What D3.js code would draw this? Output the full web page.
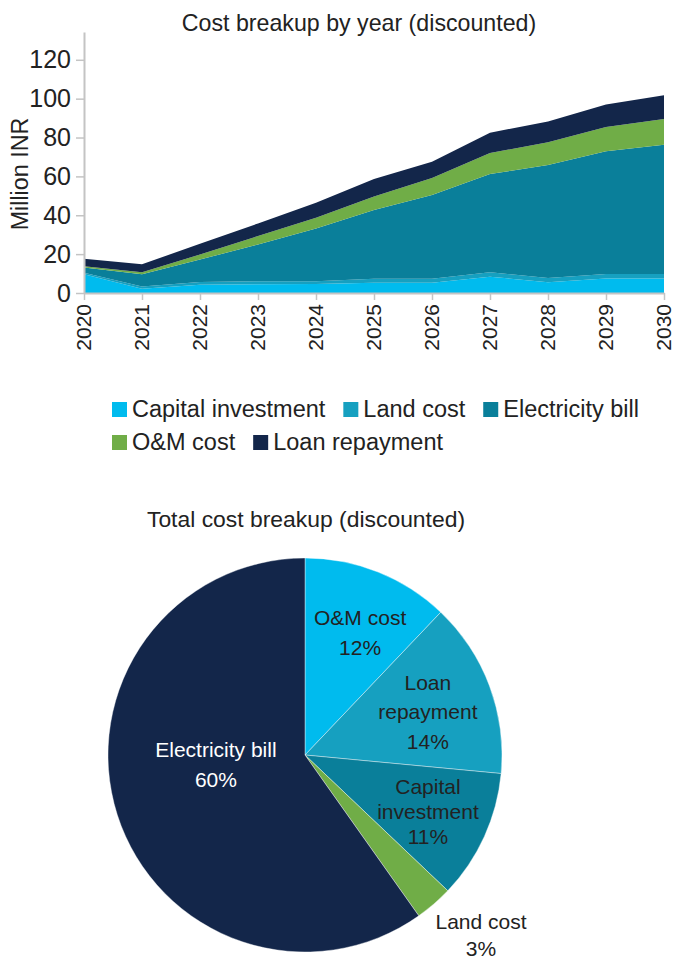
<!DOCTYPE html>
<html>
<head>
<meta charset="utf-8">
<script src="https://cdn.jsdelivr.net/npm/d3@7"></script>
<style>
  html, body { margin: 0; padding: 0; background: #fff; }
  svg { display: block; font-family: "Liberation Sans", Arial, sans-serif; }
</style>
</head>
<body>
<svg id="chart" width="674" height="962"></svg>
<script>
// ---------- DATA ----------
const years = [2020, 2021, 2022, 2023, 2024, 2025, 2026, 2027, 2028, 2029, 2030];
const seriesNames = ["Capital investment", "Land cost", "Electricity bill", "O&M cost", "Loan repayment"];
const capitalInvestment = [9.6, 2.2, 4.2, 4.5, 4.6, 5.3, 5.3, 8.4, 5.5, 7.5, 7.5];
const landCost          = [0.8, 1.1, 1.4, 1.6, 1.5, 2.0, 2.0, 2.3, 2.2, 2.3, 2.3];
const electricityBill   = [2.7, 6.3, 11.6, 18.9, 27.1, 35.4, 43.1, 50.5, 58.1, 63.2, 66.5];
const omCost            = [0.7, 1.1, 2.6, 4.3, 5.5, 6.9, 8.8, 10.8, 11.8, 12.4, 13.2];
const loanRepayment     = [3.8, 4.1, 5.5, 6.5, 7.8, 9.1, 8.4, 10.5, 10.6, 11.6, 12.3];
const yTicks = [0, 20, 40, 60, 80, 100, 120];

const pieLabels = ["O&M cost", "Loan repayment", "Capital investment", "Land cost", "Electricity bill"];
const pieValues = [12.1, 14.4, 10.6, 3.1, 59.8];

const colors = ["#00BBEE", "#16A0C0", "#0A7F9A", "#70AD47", "#13264A"];

// ---------- STACKED AREA ----------
const svg = d3.select("#chart");
const textColor = "#222";
const axisColor = "#c4c4c4";

const rows = years.map((y, i) => ({
  year: y,
  "Capital investment": capitalInvestment[i],
  "Land cost": landCost[i],
  "Electricity bill": electricityBill[i],
  "O&M cost": omCost[i],
  "Loan repayment": loanRepayment[i]
}));

const x = d3.scaleLinear().domain([2020, 2030]).range([84, 664]);
const y = d3.scaleLinear().domain([0, 134.3]).range([293, 32]);

const stack = d3.stack().keys(seriesNames);
const layers = stack(rows);
const area = d3.area()
  .x(d => x(d.data.year))
  .y0(d => y(d[0]))
  .y1(d => y(d[1]));

svg.append("g").selectAll("path")
  .data(layers)
  .join("path")
  .attr("d", area)
  .attr("fill", (d, i) => colors[i]);

// title
svg.append("text")
  .attr("x", 359).attr("y", 31)
  .attr("text-anchor", "middle")
  .attr("font-size", 23.2)
  .attr("fill", textColor)
  .text("Cost breakup by year (discounted)");

// y axis
const yAxis = svg.append("g")
  .attr("transform", "translate(84,0)")
  .call(d3.axisLeft(y).tickValues(yTicks).tickSize(8).tickPadding(5).tickSizeOuter(0));
yAxis.select(".domain").attr("stroke", axisColor).attr("stroke-width", 2);
yAxis.selectAll(".tick line").attr("stroke", axisColor).attr("stroke-width", 1.5);
yAxis.selectAll(".tick text").attr("font-size", 25).attr("fill", textColor)
  .attr("font-family", "Liberation Sans, Arial, sans-serif");

// x axis
const xAxis = svg.append("g")
  .attr("transform", "translate(0,293)")
  .call(d3.axisBottom(x).tickValues(years).tickFormat(d3.format("d")).tickSize(7).tickSizeOuter(0));
xAxis.select(".domain").attr("stroke", axisColor).attr("stroke-width", 2);
xAxis.selectAll(".tick line").attr("stroke", axisColor).attr("stroke-width", 1.5);
xAxis.selectAll(".tick text")
  .attr("font-size", 21).attr("fill", textColor)
  .attr("font-family", "Liberation Sans, Arial, sans-serif")
  .attr("text-anchor", "end")
  .attr("dy", "0.33em")
  .attr("transform", "translate(0,11) rotate(-90)")
  .attr("x", 0).attr("y", 0);

// y axis label
svg.append("text")
  .attr("transform", "translate(28,174) rotate(-90)")
  .attr("text-anchor", "middle")
  .attr("font-size", 23.3)
  .attr("fill", textColor)
  .text("Million INR");

// legend
const legendRows = [[0, 1, 2], [3, 4]];
const legendY = [409, 442];
legendRows.forEach((r, ri) => {
  let cx = 112;
  r.forEach(si => {
    const g = svg.append("g");
    g.append("rect")
      .attr("x", cx).attr("y", legendY[ri] - 7)
      .attr("width", 15).attr("height", 15)
      .attr("fill", colors[si]);
    const t = g.append("text")
      .attr("x", cx + 20).attr("y", legendY[ri])
      .attr("dy", "0.35em")
      .attr("font-size", 23.5)
      .attr("fill", textColor)
      .text(seriesNames[si]);
    cx = cx + 20 + t.node().getComputedTextLength() + 18;
  });
});

// ---------- PIE ----------
svg.append("text")
  .attr("x", 306).attr("y", 527)
  .attr("text-anchor", "middle")
  .attr("font-size", 22.9)
  .attr("fill", textColor)
  .text("Total cost breakup (discounted)");

const cx0 = 305, cy0 = 755, R = 197;
const pie = d3.pie().sort(null).value(d => d.value);
const pieData = pie(pieLabels.map((l, i) => ({ label: l, value: pieValues[i], color: colors[i] })));
const arc = d3.arc().innerRadius(0).outerRadius(R);

const pg = svg.append("g").attr("transform", `translate(${cx0},${cy0})`);
pg.selectAll("path")
  .data(pieData)
  .join("path")
  .attr("d", arc)
  .attr("fill", d => d.data.color)
  .attr("stroke", "#fff")
  .attr("stroke-width", 0.4);

// label placement: radius factor, angle shift and line breaks per slice
const labelLines = [["O&M cost"], ["Loan", "repayment"], ["Capital", "investment"], ["Land cost"], ["Electricity bill"]];
const labelRadius = [0.68, 0.661, 0.688, 1.278, 0.455];
const labelAngleShift = [0.044, 0.021, 0.007, -0.061, 0.195];
const labelLineH = [30, 29.5, 25, 27, 30];
const labelColor = ["#222", "#222", "#222", "#222", "#fff"];

pieData.forEach((d, i) => {
  const a = (d.startAngle + d.endAngle) / 2 + labelAngleShift[i];
  const rr = R * labelRadius[i];
  const lx = Math.sin(a) * rr, ly = -Math.cos(a) * rr;
  const lines = labelLines[i].concat([Math.round(d.data.value) + "%"]);
  const n = lines.length;
  const t = pg.append("text")
    .attr("text-anchor", "middle")
    .attr("font-size", 21)
    .attr("fill", labelColor[i]);
  lines.forEach((ln, k) => {
    t.append("tspan")
      .attr("x", lx)
      .attr("y", ly + (k - (n - 1) / 2) * labelLineH[i])
      .attr("dy", "0.35em")
      .text(ln);
  });
});
</script>
</body>
</html>
